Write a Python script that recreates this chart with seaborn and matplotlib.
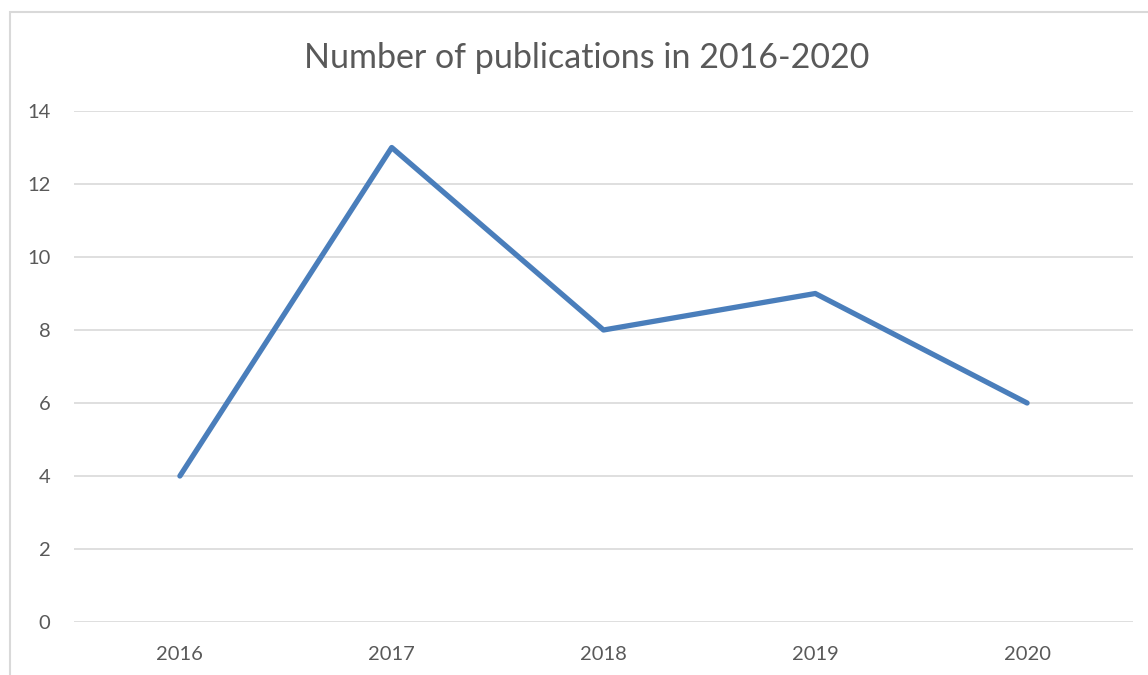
import pandas as pd
import seaborn as sns
import matplotlib.pyplot as plt
from matplotlib.patches import Rectangle

years = ["2016", "2017", "2018", "2019", "2020"]
publications = [4, 13, 8, 9, 6]

sns.set_theme(style="white")
plt.rcParams['font.family'] = ['Lato', 'DejaVu Sans']

data = pd.DataFrame({"year": years, "count": publications})

fig = plt.figure(figsize=(11.48, 6.75), dpi=100)
ax = fig.add_axes([74 / 1148, 1 - 622 / 675, (1133 - 74) / 1148, (622 - 111) / 675])

# chart border (cropped at right and bottom like the original)
fig.patches.append(Rectangle((10 / 1148, -0.1), 1.2, 1 - 12 / 675 + 0.1,
                             transform=fig.transFigure, fill=False,
                             edgecolor="#d9d9d9", linewidth=1.5, zorder=0))

sns.lineplot(data=data, x="year", y="count", ax=ax, color="#4a7ebb",
             linewidth=3.8, sort=False)

ax.set_xlim(-0.5, 4.5)
ax.set_ylim(0, 14)
ax.set_yticks(range(0, 15, 2))
ax.grid(axis="y", color="#d9d9d9", linewidth=1.2)
ax.set_axisbelow(True)
for s in ax.spines.values():
    s.set_visible(False)
ax.tick_params(axis="both", length=0, labelsize=14.5, colors="#595959")
ax.tick_params(axis="y", pad=17)
ax.tick_params(axis="x", pad=17)
ax.set_xlabel("")
ax.set_ylabel("")

fig.text(587 / 1148, 1 - 58 / 675, "Number of publications in 2016-2020",
         ha="center", va="center", fontsize=24.5, color="#595959")

fig.savefig("out.png", dpi=100)
